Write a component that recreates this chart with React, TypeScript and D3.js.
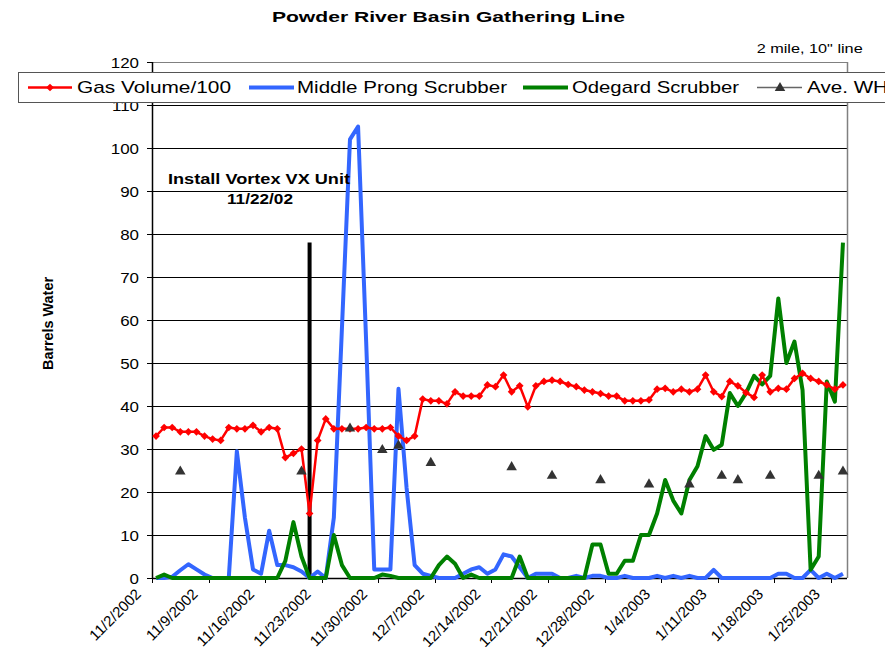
import React from 'react';
import * as d3 from 'd3';

const chartTitle = 'Powder River Basin Gathering Line';
const subTitle = '2 mile, 10" line';
const yAxisTitle = 'Barrels Water';
const annotationLines = ['Install Vortex VX Unit', '11/22/02'];

const seriesNames = ['Gas Volume/100', 'Middle Prong Scrubber', 'Odegard Scrubber', 'Ave. WH'];

const tickLabels = [
  '11/2/2002', '11/9/2002', '11/16/2002', '11/23/2002', '11/30/2002', '12/7/2002',
  '12/14/2002', '12/21/2002', '12/28/2002', '1/4/2003', '1/11/2003', '1/18/2003', '1/25/2003',
];
const tickEvery = 7;

const yTicks = [0, 10, 20, 30, 40, 50, 60, 70, 80, 90, 100, 110, 120];

const gasVolume = [
  33, 35, 35, 34, 34, 34, 33, 32.3, 32, 35, 34.7, 34.7, 35.5, 34, 35, 34.7,
  28, 29, 30, 15, 32, 37, 34.7, 34.7, 34.7, 34.7, 35, 34.7, 34.7, 35,
  33, 32, 33, 41.6, 41.2, 41.2, 40.5, 43.3, 42.3, 42.3, 42.3, 44.9, 44.5, 47.2, 43.3, 44.7,
  39.8, 44.7, 45.7, 46, 45.7, 45, 44.5, 43.7, 43.3, 42.9, 42.3, 42.3, 41.2, 41.2,
  41.2, 41.4, 43.9, 44.1, 43.3, 43.9, 43.3, 43.9, 47.2, 43.3, 42.2, 45.7, 44.7, 43.1, 42,
  47.2, 43.3, 44.1, 43.9, 46.4, 47.6, 46.4, 45.7, 44.9, 43.9, 44.9,
];

const middleProng = [
  0, 0, 0.3, 1.8, 3.2, 2, 0.8, 0, 0, 0, 29.5, 14, 2, 1, 11, 3,
  3, 2.5, 1.5, 0, 1.5, 0, 14, 58, 102, 105, 55, 2, 2, 2,
  44, 21, 3, 1, 0.5, 0, 0, 0, 1, 2, 2.5, 1, 2, 5.5, 5, 2.5,
  0, 1, 1, 1, 0, 0, 0.5, 0, 0.5, 0.5, 0, 0, 0.5, 0,
  0, 0, 0.5, 0, 0.5, 0, 0.5, 0, 0, 1.9, 0, 0, 0, 0, 0,
  0, 0, 1, 1, 0, 0, 1.9, 0, 1, 0, 1,
];

const odegard = [
  0, 0.8, 0, 0, 0, 0, 0, 0, 0, 0, 0, 0, 0, 0, 0, 0,
  4, 13, 5, 0, 0, 0, 10, 3, 0, 0, 0, 0, 0.8, 0.5,
  0, 0, 0, 0, 0, 3, 5, 3.3, 0, 0.8, 0, 0, 0, 0, 0, 5,
  0, 0, 0, 0, 0, 0, 0, 0, 7.8, 7.8, 1, 1, 4, 4,
  10, 10, 15, 22.8, 18, 15, 22.8, 26, 33, 29.8, 31, 43, 40, 43, 47,
  45, 47, 65, 50, 55, 43.7, 1.9, 5, 45.7, 41, 78,
];

const aveWHIndex = [3, 18, 24, 28, 30, 34, 44, 49, 55, 61, 66, 70, 72, 76, 82, 85];
const aveWHValue = [25, 25, 35, 30, 31, 27, 26, 24, 23, 22, 22, 24, 23, 24, 24, 25];

const annotationIndex = 19;
const annotationTop = 78;

const RED = '#FF0000';
const BLUE = '#3366FF';
const GREEN = '#008000';
const TRI = '#333333';
const FONT = "'Liberation Sans', Arial, sans-serif";

export default function App() {
  const n = gasVolume.length;
  const x = d3.scaleBand<number>().domain(d3.range(n)).range([152, 847]).padding(0);
  const bw = x.bandwidth();
  const cx = (i: number) => (x(i) as number) + bw / 2;
  const y = d3.scaleLinear().domain([0, 120]).range([578, 62]);

  const line = d3
    .line<number>()
    .x((_, i) => cx(i))
    .y((d) => y(d));

  const diamond = d3.symbol(d3.symbolSquare, 30)() as string;
  const triangle = d3.symbol(d3.symbolTriangle, 48)() as string;

  const x0 = 152;
  const x1 = 847;
  const yTop = y(120);
  const yBot = y(0);

  return (
    <svg
      width={885}
      height={650}
      style={{ position: 'absolute', left: 0, top: 0, background: '#fff' }}
      fontFamily={FONT}
    >
      <rect x={0} y={0} width={885} height={650} fill="#fff" />
      {/* title */}
      <text x={448.4} y={21.5} textAnchor="middle" fontSize={15} fontWeight="bold"
        textLength={353} lengthAdjust="spacingAndGlyphs">{chartTitle}</text>
      <text x={756.7} y={53.3} fontSize={13} textLength={106} lengthAdjust="spacingAndGlyphs">{subTitle}</text>

      {/* gridlines */}
      {yTicks.filter((t) => t > 0).map((t) => (
        <line key={'g' + t} x1={x0} x2={x1} y1={Math.round(y(t)) + 0.5} y2={Math.round(y(t)) + 0.5}
          stroke={t === 120 ? '#808080' : '#000'} strokeWidth={1} shapeRendering="crispEdges" />
      ))}
      {/* right frame */}
      <line x1={x1 + 0.5} x2={x1 + 0.5} y1={yTop} y2={yBot} stroke="#808080" strokeWidth={1.5} />

      {/* y axis */}
      <line x1={x0 + 0.5} x2={x0 + 0.5} y1={yTop} y2={yBot + 0.5} stroke="#000" strokeWidth={1.5} />
      {yTicks.map((t) => (
        <g key={'yt' + t}>
          <line x1={147} x2={x0} y1={Math.round(y(t)) + 0.5} y2={Math.round(y(t)) + 0.5} stroke="#000" shapeRendering="crispEdges" />
          <text transform={`translate(139,${y(t) + 5.5}) scale(1.13,1)`} textAnchor="end" fontSize={15}>{t}</text>
        </g>
      ))}
      <text transform={`translate(52.5,323.5) rotate(-90)`} textAnchor="middle" fontSize={14} fontWeight="bold"
        textLength={93} lengthAdjust="spacingAndGlyphs">{yAxisTitle}</text>

      {/* x axis */}
      <line x1={x0} x2={x1} y1={yBot + 0.5} y2={yBot + 0.5} stroke="#000" strokeWidth={1.5} />
      {tickLabels.map((lab, k) => {
        const tx = x(k * tickEvery) as number;
        return (
          <g key={'xt' + k}>
            <line x1={tx + 0.5} x2={tx + 0.5} y1={yBot} y2={yBot + 5} stroke="#000" shapeRendering="crispEdges" />
            <text transform={`translate(${tx - 10},595) rotate(-45)`} textAnchor="end" fontSize={15}>{lab}</text>
          </g>
        );
      })}

      {/* annotation */}
      <line x1={cx(annotationIndex)} x2={cx(annotationIndex)} y1={y(annotationTop)} y2={yBot} stroke="#000" strokeWidth={4} />

      {/* series */}
      <path d={line(middleProng) as string} fill="none" stroke={BLUE} strokeWidth={4} strokeLinejoin="round" />
      <path d={line(odegard) as string} fill="none" stroke={GREEN} strokeWidth={4} strokeLinejoin="round" />
      <path d={line(gasVolume) as string} fill="none" stroke={RED} strokeWidth={2.5} strokeLinejoin="round" />
      {gasVolume.map((v, i) => (
        <path key={'d' + i} d={diamond} transform={`translate(${cx(i)},${y(v)}) rotate(45)`} fill={RED} />
      ))}
      {aveWHIndex.map((idx, k) => (
        <path key={'t' + k} d={triangle} transform={`translate(${cx(idx)},${y(aveWHValue[k]) + 1})`} fill={TRI} />
      ))}

      <text x={259} y={184} textAnchor="middle" fontSize={14} fontWeight="bold"
        textLength={182} lengthAdjust="spacingAndGlyphs">{annotationLines[0]}</text>
      <text x={260} y={204} textAnchor="middle" fontSize={14} fontWeight="bold"
        textLength={66} lengthAdjust="spacingAndGlyphs">{annotationLines[1]}</text>

      {/* legend */}
      <rect x={18.5} y={72.5} width={900} height={30} fill="#fff" stroke="#555" strokeWidth={1} />
      <line x1={28} x2={72} y1={87.5} y2={87.5} stroke={RED} strokeWidth={2.5} />
      <path d={diamond} transform="translate(50,87.5) rotate(45)" fill={RED} />
      <text x={77} y={93} fontSize={17} textLength={154} lengthAdjust="spacingAndGlyphs">{seriesNames[0]}</text>
      <line x1={249} x2={294} y1={87.5} y2={87.5} stroke={BLUE} strokeWidth={4} />
      <text x={297} y={93} fontSize={17} textLength={210} lengthAdjust="spacingAndGlyphs">{seriesNames[1]}</text>
      <line x1={523} x2={568} y1={87.5} y2={87.5} stroke={GREEN} strokeWidth={4} />
      <text x={572} y={93} fontSize={17} textLength={167} lengthAdjust="spacingAndGlyphs">{seriesNames[2]}</text>
      <line x1={757} x2={802} y1={87.5} y2={87.5} stroke="#666" strokeWidth={1.5} />
      <path d={triangle} transform="translate(780,88)" fill={TRI} />
      <text x={807} y={93} fontSize={17} textLength={81} lengthAdjust="spacingAndGlyphs">{seriesNames[3]}</text>
    </svg>
  );
}
